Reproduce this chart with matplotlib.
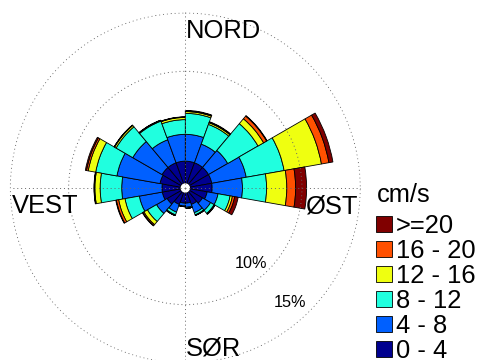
import numpy as np
import matplotlib
matplotlib.use("Agg")
import matplotlib.pyplot as plt
from matplotlib.patches import Rectangle

plt.rcParams["font.family"] = ["Liberation Sans", "DejaVu Sans"]

# sector centres in degrees, clockwise from north (20 degree sectors)
directions = np.arange(10, 360, 20)

# frequency (%) of each speed class per sector
freq_0_4 = [1.9, 1.9, 1.9, 1.9, 1.9, 1.5, 1.3, 1.1, 0.9, 0.9, 1.1, 1.4, 1.6, 1.6, 1.8, 1.9, 1.9, 1.9]
freq_4_8 = [2.3, 1.7, 1.9, 3.0, 2.6, 0.95, 0.8, 0.75, 0.35, 0.25, 0.7, 1.05, 2.0, 3.45, 3.75, 2.9, 2.1, 2.3]
freq_8_12 = [1.8, 1.8, 3.0, 3.3, 2.07, 1.05, 0.35, 0.2, 0.1, 0.05, 0.25, 0.9, 1.25, 1.85, 1.85, 1.65, 1.7, 1.26]
freq_12_16 = [0.15, 0.15, 0.55, 3.25, 1.73, 0.2, 0.05, 0.05, 0.0, 0.0, 0.05, 0.35, 0.55, 0.45, 0.65, 0.15, 0.05, 0.19]
freq_16_20 = [0.05, 0.05, 0.3, 0.65, 0.76, 0.2, 0.02, 0.0, 0.0, 0.0, 0.02, 0.1, 0.2, 0.05, 0.15, 0.03, 0.02, 0.03]
freq_20 = [0.05, 0.05, 0.05, 0.35, 0.94, 0.3, 0.03, 0.0, 0.0, 0.0, 0.0, 0.05, 0.05, 0.03, 0.1, 0.02, 0.02, 0.02]

classes = [">=20", "16 - 20", "12 - 16", "8 - 12", "4 - 8", "0 - 4"]
# jet(64) rows used for the classes, slowest first
colors = [(0, 0, 0.5625), (0, 0.375, 1), (0.125, 1, 0.875),
          (0.9375, 1, 0.0625), (1, 0.3125, 0), (0.5, 0, 0)]

hole = 0.4  # empty disc in the middle of the rose
W, H = 481, 360

fig = plt.figure(figsize=(W / 100, H / 100), dpi=100)

# polar axes: centre at (185.3, 188) px, 15 % ring at 175 px
cx, cy, R = 185.3, 188.0, 175.0
rmax = 15.05
Rax = R * rmax / 15
ax = fig.add_axes([(cx - Rax) / W, 1 - (cy + Rax) / H, 2 * Rax / W, 2 * Rax / H],
                  projection="polar")
ax.set_theta_zero_location("N")
ax.set_theta_direction(-1)

theta = np.deg2rad(directions)
width = np.deg2rad(20)
bottom = np.full(len(directions), hole)
for vals, col in zip([freq_0_4, freq_4_8, freq_8_12, freq_12_16, freq_16_20, freq_20], colors):
    vals = np.asarray(vals)
    ax.bar(theta, vals, width=width, bottom=bottom, color=col,
           edgecolor="black", linewidth=0.6, align="center")
    bottom = bottom + vals

# white centre
ax.bar(0, hole, width=2 * np.pi, bottom=0, color="white", edgecolor="none")

ax.set_ylim(0, rmax)
ax.set_rgrids([10, 15], labels=["", ""])
ax.set_thetagrids([0, 90, 180, 270], labels=[""] * 4)
ax.spines["polar"].set_visible(False)
ax.set_axisbelow(False)
ax.grid(True, color="0.4", linewidth=0.7, linestyle=(0, (1, 3)))
ax.patch.set_visible(False)


def px(x, y):
    return x / W, 1 - y / H


# compass labels
big = 18.4
fig.text(*px(186, 38), "NORD", fontsize=big, ha="left", va="baseline")
fig.text(*px(186, 356), "SØR", fontsize=big, ha="left", va="baseline")
fig.text(*px(12, 213), "VEST", fontsize=big, ha="left", va="baseline")
fig.text(*px(305, 213), "ØST", fontsize=big, ha="left", va="baseline")

# ring labels
fig.text(*px(235, 268), "10%", fontsize=11.7, ha="left", va="baseline")
fig.text(*px(274, 307), "15%", fontsize=11.7, ha="left", va="baseline")

# legend
fig.text(*px(377, 202), "cm/s", fontsize=big, ha="left", va="baseline")
for i, (lab, col) in enumerate(zip(classes, colors[::-1])):
    yc = 224 + 25 * i
    x0, y0 = px(376, yc + 8)
    fig.add_artist(Rectangle((x0, y0), 16 / W, 16 / H, transform=fig.transFigure,
                             facecolor=col, edgecolor="black", linewidth=0.6))
    fig.text(*px(396, yc + 9), lab, fontsize=big, ha="left", va="baseline")

fig.savefig("out.png", dpi=100)
